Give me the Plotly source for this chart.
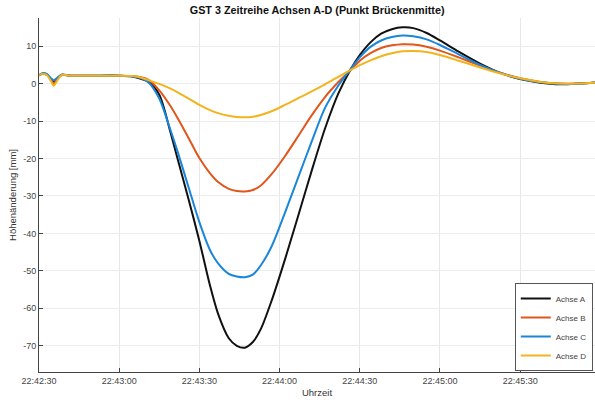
import plotly.graph_objects as go
from datetime import datetime, timedelta

# time in seconds after 22:42:30
t_sec = [0, 1.5, 3, 4.5, 5.5, 7, 8.5, 12, 20, 30, 35, 38, 41, 45, 49, 52, 56, 60, 64, 67, 71, 74, 77,
         80, 83, 87, 92, 97, 102, 107, 112, 117, 120, 124, 128, 132, 136, 140, 145, 150, 157, 165,
         172, 180, 187, 195, 202, 208]

achse_a = [2.2, 2.6, 2.3, 1.2, 0.6, 1.5, 2.3, 2.1, 2.1, 2.1, 1.9, 1.3, 0.5, -3.0, -12.5, -20.5, -31.0,
           -42.0, -54.0, -61.5, -68.0, -70.0, -70.5, -69.0, -65.5, -58.0, -47.0, -35.2, -23.3, -12.0,
           -2.6, 4.3, 7.6, 11.0, 13.3, 14.5, 15.0, 14.8, 13.5, 11.5, 8.5, 5.3, 3.0, 1.2, 0.3, -0.2,
           0.0, 0.3]
achse_b = [2.2, 2.7, 2.4, 1.0, 0.0, 1.3, 2.3, 2.1, 2.1, 2.1, 2.0, 1.7, 1.0, -1.8, -5.8, -9.4, -14.6,
           -19.9, -24.0, -26.3, -28.1, -28.7, -28.8, -28.4, -27.2, -24.2, -19.4, -14.0, -8.5, -3.6,
           0.4, 3.9, 6.1, 8.1, 9.5, 10.2, 10.5, 10.4, 9.8, 8.8, 7.0, 4.8, 3.0, 1.4, 0.5, 0.0, 0.0, 0.2]
achse_c = [2.2, 2.8, 2.5, 1.4, 0.9, 1.6, 2.4, 2.1, 2.1, 2.1, 1.9, 1.5, 0.3, -4.0, -12.0, -18.5, -27.8,
           -37.0, -44.5, -48.0, -50.8, -51.5, -51.7, -51.0, -48.5, -43.5, -34.5, -25.0, -15.5, -6.5,
           -0.5, 4.3, 7.0, 9.8, 11.5, 12.4, 12.8, 12.6, 11.8, 10.3, 7.8, 5.0, 3.0, 1.3, 0.4, -0.1,
           0.0, 0.2]
achse_d = [2.2, 2.6, 2.2, 0.6, -0.6, 1.0, 2.3, 2.1, 2.1, 2.1, 2.0, 1.6, 0.9, -0.1, -1.3, -2.4, -4.0,
           -5.7, -7.1, -7.9, -8.6, -8.9, -9.0, -8.85, -8.4, -7.4, -5.7, -3.9, -2.1, -0.2, 1.8, 3.8,
           4.9, 6.2, 7.3, 8.1, 8.6, 8.7, 8.4, 7.6, 6.1, 4.3, 2.8, 1.4, 0.5, 0.0, 0.0, 0.2]

series_names = ["Achse A", "Achse B", "Achse C", "Achse D"]
series_colors = ["#111111", "#E0561C", "#1A86DA", "#F3B31C"]

x_tick_labels = ["22:42:30", "22:43:00", "22:43:30", "22:44:00", "22:44:30", "22:45:00", "22:45:30"]
y_tick_vals = [-70, -60, -50, -40, -30, -20, -10, 0, 10]
y_tick_text = ["-70", "-60", "-50", "-40", "-30", "-20", "-10", "0", "10"]

t0 = datetime(2023, 1, 1, 22, 42, 30)
x_time = [t0 + timedelta(seconds=s) for s in t_sec]
x_ticks = [datetime.strptime("2023-01-01 " + s, "%Y-%m-%d %H:%M:%S") for s in x_tick_labels]

fig = go.Figure()
for name, vals, col in zip(series_names, [achse_a, achse_b, achse_c, achse_d], series_colors):
    fig.add_trace(go.Scatter(x=x_time, y=vals, mode="lines", name=name,
                             line=dict(color=col, width=2, shape="spline", smoothing=0.8)))

font_fam = "Liberation Sans, Arial, sans-serif"
fig.update_layout(
    width=595, height=405,
    margin=dict(l=39, r=0, t=18, b=33),
    paper_bgcolor="white", plot_bgcolor="white",
    font=dict(family=font_fam, size=9, color="#444"),
    title=dict(text="<b>GST 3 Zeitreihe Achsen A-D (Punkt Brückenmitte)</b>",
               x=0.533, xanchor="center", xref="container",
               y=0.976, yanchor="middle", yref="container",
               font=dict(size=10.8, color="#111")),
    showlegend=True,
    legend=dict(x=0.996, y=0.003, xanchor="right", yanchor="bottom",
                bgcolor="white", bordercolor="#555", borderwidth=1,
                font=dict(size=8, color="#444"), itemwidth=30, tracegroupgap=0),
)
fig.update_xaxes(
    type="date", automargin=False,
    range=[t0, t0 + timedelta(seconds=208)],
    tickvals=x_ticks, ticktext=x_tick_labels,
    showgrid=True, gridcolor="#e8e8e8", gridwidth=1,
    showline=True, linecolor="#444", linewidth=1,
    ticks="inside", ticklen=4, tickcolor="#444",
    zeroline=False,
    title=dict(text="Uhrzeit", font=dict(size=9.5, color="#333"), standoff=4),
)
fig.update_yaxes(
    automargin=False,
    range=[-77, 17.5],
    tickvals=y_tick_vals, ticktext=y_tick_text,
    showgrid=True, gridcolor="#ececec", gridwidth=1,
    showline=True, linecolor="#444", linewidth=1,
    ticks="inside", ticklen=4, tickcolor="#444",
    zeroline=False,
    title=dict(text="Höhenänderung [mm]", font=dict(size=9.5, color="#333"), standoff=4),
)

fig.write_html("out.html", config={"displayModeBar": False},
               post_script="document.body.style.margin='0';document.body.style.overflow='hidden';")
